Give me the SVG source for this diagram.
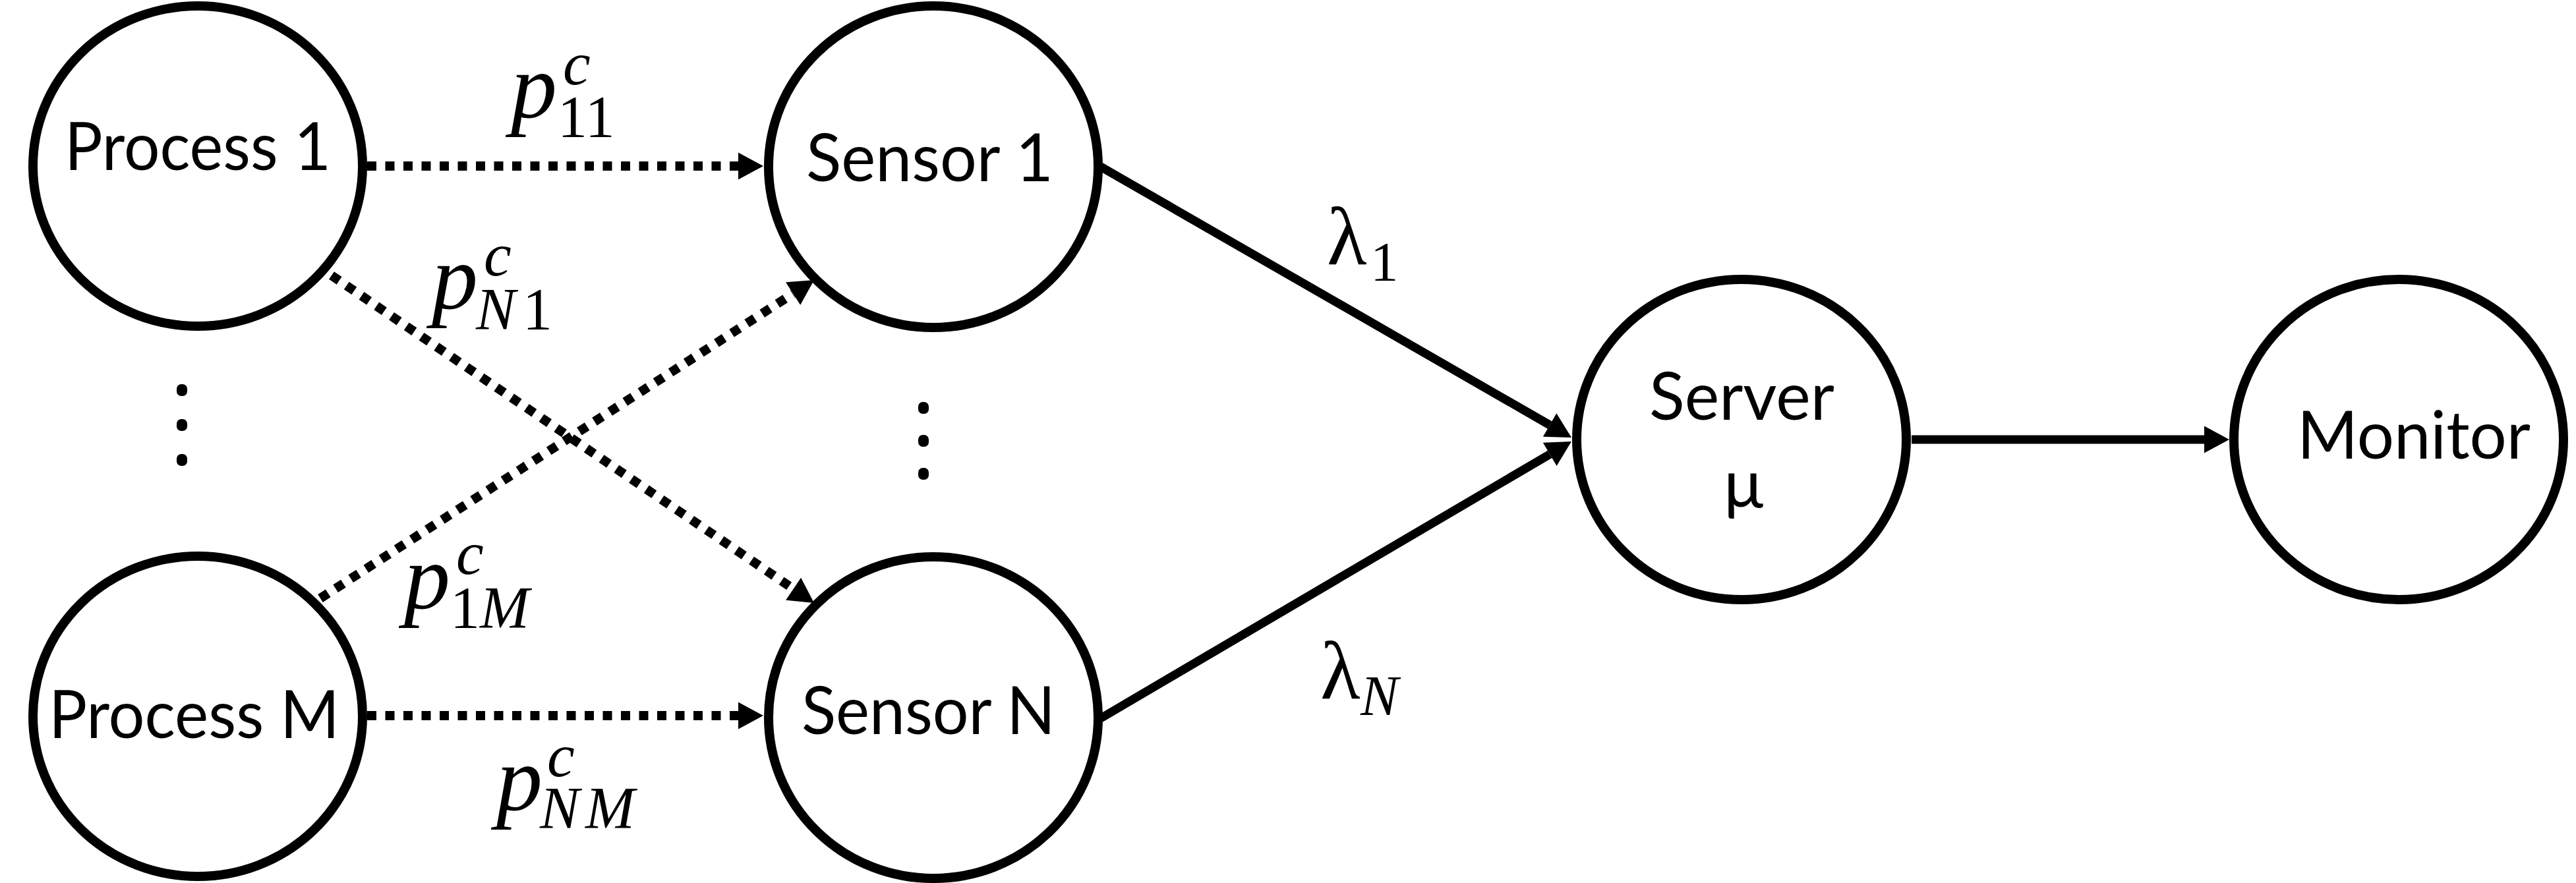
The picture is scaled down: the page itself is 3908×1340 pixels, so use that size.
<svg xmlns="http://www.w3.org/2000/svg" width="3908" height="1340" viewBox="0 0 3908 1340">
  <style>
    .node { fill: #ffffff; stroke: #000000; stroke-width: 14; }
    .lbl { font-family: Lato, "Open Sans", "Liberation Sans", sans-serif; font-size: 100px; fill: #000000; }
    .solid { stroke: #000000; stroke-width: 13; fill: none; }
    .dotted { stroke: #000000; stroke-width: 14; fill: none; stroke-dasharray: 14 13.5; }
    .math { font-family: "Liberation Serif", "DejaVu Serif", serif; fill: #000000; }
    .it { font-style: italic; }
    .dot { fill: #000000; }
  </style>
  <defs>
    <marker id="arrow" markerUnits="userSpaceOnUse" markerWidth="40" markerHeight="42" refX="0" refY="20.5" orient="auto" viewBox="0 0 40 42" overflow="visible">
      <path d="M0,0 L38,20.5 L0,41 z" fill="#000000"/>
    </marker>
  </defs>
  <rect x="0" y="0" width="3908" height="1340" fill="#ffffff"/>

  <g id="connectors">
    <line class="dotted" x1="557" y1="252" x2="1120" y2="252" marker-end="url(#arrow)"/>
    <line class="dotted" x1="557" y1="1086" x2="1120" y2="1086" marker-end="url(#arrow)"/>
    <line class="dotted" x1="503" y1="418" x2="1203.6" y2="893.7" marker-end="url(#arrow)"/>
    <line class="dotted" x1="486" y1="908" x2="1203.1" y2="445.6" marker-end="url(#arrow)"/>
    <line class="solid" x1="1670" y1="253" x2="2351.1" y2="645" marker-end="url(#arrow)"/>
    <line class="solid" x1="1670" y1="1090" x2="2351.2" y2="689.3" marker-end="url(#arrow)"/>
    <line class="solid" x1="2900" y1="667" x2="3344" y2="667" marker-end="url(#arrow)"/>
  </g>

  <g id="edge-labels">
    <text class="math"><tspan class="it" x="775" y="178" font-size="140">p</tspan><tspan class="it" x="854" y="128" font-size="94">c</tspan><tspan x="846" y="208" font-size="90">11</tspan></text>
    <text class="math"><tspan class="it" x="655" y="468" font-size="140">p</tspan><tspan class="it" x="734" y="418" font-size="94">c</tspan><tspan class="it" x="722" y="500" font-size="90">N</tspan><tspan x="793" y="500" font-size="90">1</tspan></text>
    <text class="math"><tspan class="it" x="613" y="923" font-size="140">p</tspan><tspan class="it" x="692" y="871" font-size="94">c</tspan><tspan x="683" y="953" font-size="90">1</tspan><tspan class="it" x="728" y="953" font-size="90">M</tspan></text>
    <text class="math"><tspan class="it" x="753" y="1229" font-size="140">p</tspan><tspan class="it" x="830" y="1178" font-size="94">c</tspan><tspan class="it" x="819" y="1257" font-size="90">N</tspan><tspan class="it" x="888" y="1257" font-size="90">M</tspan></text>
    <text class="math"><tspan x="2013" y="401" font-size="125">λ</tspan><tspan x="2079" y="426" font-size="85">1</tspan></text>
    <text class="math"><tspan x="2003" y="1060" font-size="125">λ</tspan><tspan class="it" x="2064" y="1085" font-size="86">N</tspan></text>
  </g>

  <g id="ellipsis-left">
    <rect class="dot" x="268" y="583" width="16" height="18" rx="7"/>
    <rect class="dot" x="268" y="636" width="16" height="18" rx="7"/>
    <rect class="dot" x="268" y="689" width="16" height="18" rx="7"/>
  </g>
  <g id="ellipsis-middle">
    <rect class="dot" x="1393" y="610" width="16" height="18" rx="7"/>
    <rect class="dot" x="1393" y="660" width="16" height="18" rx="7"/>
    <rect class="dot" x="1393" y="710" width="16" height="18" rx="7"/>
  </g>

  <g id="process-1">
    <ellipse class="node" cx="300" cy="252" rx="250" ry="243"/>
    <text class="lbl" x="98" y="258" textLength="404" lengthAdjust="spacingAndGlyphs">Process 1</text>
  </g>
  <g id="process-m">
    <ellipse class="node" cx="300" cy="1087" rx="250" ry="243"/>
    <text class="lbl" x="74" y="1120" textLength="441" lengthAdjust="spacingAndGlyphs">Process M</text>
  </g>
  <g id="sensor-1">
    <ellipse class="node" cx="1416" cy="253" rx="250" ry="244"/>
    <text class="lbl" x="1223" y="275" textLength="375" lengthAdjust="spacingAndGlyphs">Sensor 1</text>
  </g>
  <g id="sensor-n">
    <ellipse class="node" cx="1416" cy="1089" rx="250" ry="244"/>
    <text class="lbl" x="1216" y="1114" textLength="385" lengthAdjust="spacingAndGlyphs">Sensor N</text>
  </g>
  <g id="server">
    <ellipse class="node" cx="2642" cy="667" rx="250" ry="243"/>
    <text class="lbl" x="2502" y="637" textLength="281" lengthAdjust="spacingAndGlyphs">Server</text>
    <text class="lbl" x="2645" y="770" text-anchor="middle">μ</text>
  </g>
  <g id="monitor">
    <ellipse class="node" cx="3639" cy="667" rx="250" ry="243"/>
    <text class="lbl" x="3485" y="696" textLength="354" lengthAdjust="spacingAndGlyphs">Monitor</text>
  </g>
</svg>
